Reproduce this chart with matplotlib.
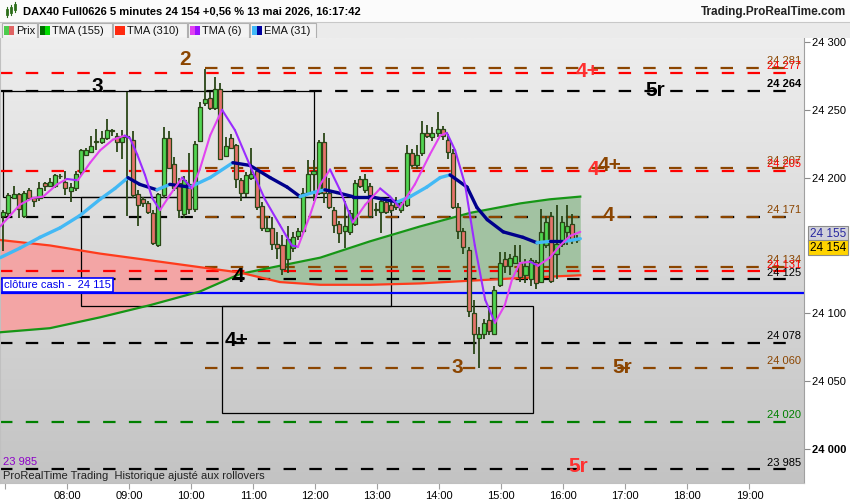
import numpy as np
import matplotlib
matplotlib.use('Agg')
import matplotlib.pyplot as plt
from matplotlib.collections import LineCollection
from matplotlib.patches import Rectangle
from matplotlib.colors import LinearSegmentedColormap

plt.rcParams['font.family'] = ['Liberation Sans', 'DejaVu Sans']

# ---------------- data ----------------
OPEN = [24172,24174,24185,24188,24172,24191,24185,24185,24196,24194,
        24194,24201,24197,24190,24192,24204,24217,24219,24227,24226,
        24229,24235,24231,24226,24230,24228,24188,24184,24181,24174,
        24150,24187,24229,24210,24196,24173,24195,24177,24227,24255,
        24259,24251,24265,24216,24229,24224,24198,24189,24200,24205,
        24179,24161,24163,24151,24150,24140,24148,24157,24161,24189,
        24203,24189,24226,24189,24176,24166,24161,24160,24166,24199,
        24191,24194,24177,24175,24182,24180,24183,24176,24180,24218,
        24209,24218,24233,24230,24233,24236,24228,24218,24178,24161,
        24147,24100,24082,24085,24095,24085,24121,24140,24135,24137,
        24137,24128,24125,24138,24123,24150,24172,24144,24151,24160,
        24166,24154]
HIGH = [24176,24189,24194,24189,24190,24192,24186,24197,24197,24200,
        24203,24203,24205,24196,24205,24221,24222,24231,24236,24234,
        24243,24236,24233,24235,24263,24234,24191,24186,24183,24176,
        24189,24237,24234,24215,24200,24201,24218,24227,24256,24280,
        24263,24274,24270,24230,24232,24225,24200,24204,24222,24207,
        24182,24171,24171,24160,24158,24164,24160,24163,24192,24213,
        24213,24228,24233,24200,24178,24168,24183,24176,24198,24201,
        24203,24196,24181,24185,24184,24184,24186,24184,24224,24221,
        24224,24242,24239,24237,24248,24238,24232,24221,24181,24163,
        24149,24110,24090,24096,24103,24120,24145,24145,24144,24150,
        24150,24140,24141,24139,24177,24172,24175,24180,24172,24180,
        24173,24158]
LOW = [24146,24172,24185,24170,24170,24184,24178,24183,24190,24194,
       24192,24199,24187,24182,24190,24202,24216,24218,24220,24225,
       24228,24231,24219,24214,24172,24185,24164,24178,24173,24150,
       24149,24185,24206,24190,24170,24170,24173,24175,24226,24253,
       24250,24250,24213,24215,24221,24192,24183,24186,24198,24176,
       24161,24160,24147,24140,24128,24130,24145,24154,24159,24188,
       24183,24187,24181,24177,24159,24152,24148,24158,24164,24192,
       24189,24170,24172,24159,24173,24174,24176,24174,24178,24208,
       24206,24216,24229,24227,24230,24228,24214,24177,24155,24144,
       24097,24070,24060,24081,24084,24084,24119,24130,24128,24136,
       24123,24122,24120,24118,24122,24148,24122,24125,24149,24150,
       24151,24152]
CLOSE = [24175,24187,24188,24177,24189,24185,24183,24192,24194,24197,
         24202,24201,24192,24193,24203,24220,24220,24223,24226,24229,
         24235,24234,24226,24230,24231,24187,24180,24181,24175,24152,
         24188,24229,24207,24192,24176,24198,24177,24225,24252,24258,
         24251,24265,24214,24223,24222,24199,24189,24202,24203,24178,
         24163,24163,24151,24148,24133,24155,24156,24161,24189,24203,
         24205,24226,24189,24178,24165,24159,24164,24174,24196,24194,
         24199,24172,24176,24183,24175,24176,24178,24182,24218,24209,
         24217,24233,24231,24233,24236,24231,24219,24178,24161,24149,
         24102,24085,24085,24093,24087,24117,24137,24135,24141,24142,
         24127,24135,24139,24122,24160,24167,24124,24151,24167,24164,
         24154,24154]

# EMA(31) (candle index, price)
EMA_X = [-0.6, 3.2, 7.1, 11.0, 14.8, 18.7, 21.6, 24.1, 26.4, 29.7, 32.2, 36.1, 40.0, 44.4,
         47.7, 51.6, 54.9, 57.4, 59.9, 62.2, 64.5, 67.6, 70.9, 76.2, 78.7, 81.9, 84.5, 86.4,
         89.7, 91.6, 93.6, 96.7, 100.5, 103.2, 105.7, 108.6, 111.6]
EMA_Y = [24141, 24148, 24156, 24163, 24172, 24184, 24192, 24200, 24195, 24191, 24195, 24193,
         24200, 24211, 24209, 24200, 24193, 24186, 24189, 24191, 24189, 24186, 24186, 24182,
         24186, 24193, 24200, 24202, 24193, 24178, 24169, 24160, 24156, 24152, 24153, 24153, 24155]

# TMA(6)
TMA6_X = [-0.6,1.3,3.2,5.7,7.7,10.4,12.3,14.4,16.8,18.7,21.2,23.5,24.5,25.9,27.4,28.8,30.3,
          32.2,34.6,36.5,38.0,40.0,42.3,44.8,47.7,50.6,53.5,55.8,57.0,59.3,61.3,63.2,65.1,
          67.6,70.0,72.9,74.8,76.7,79.6,82.5,84.5,85.8,87.4,89.3,91.2,93.2,95.1,97.0,98.4,
          99.9,101.9,103.4,105.7,107.7,109.6,111.6]
TMA6_Y = [24164,24172,24180,24185,24186,24195,24199,24198,24211,24220,24228,24231,24229,
          24217,24202,24185,24176,24187,24200,24192,24206,24231,24250,24235,24209,24184,
          24165,24150,24149,24172,24195,24206,24191,24167,24180,24192,24186,24178,24195,
          24217,24231,24233,24220,24195,24150,24110,24093,24106,24125,24137,24138,24135,
          24141,24150,24157,24160]

# TMA(155) and TMA(310)
TMA_LONG_X = [-0.6, 9, 18.7, 28.4, 38, 45.8, 53.5, 61.3, 70.9, 80.6, 90.3, 100, 105.7, 111.6]
TMA155 = [24086, 24089, 24097, 24106, 24116, 24129, 24135, 24141, 24153, 24164, 24174, 24181, 24184, 24186]
TMA310 = [24154, 24150, 24144, 24139, 24134, 24130, 24123, 24121, 24121, 24122, 24124, 24126, 24127, 24128]

# horizontal levels
LEVELS = [24281, 24277, 24264, 24207, 24205, 24171, 24171, 24134, 24131, 24125, 24078, 24060, 24020, 23985]
LEVEL_COLORS = ['#8b4500', '#ff0000', '#000000', '#8b4500', '#ff0000', '#000000', '#8b4500',
                '#8b4500', '#ff0000', '#000000', '#000000', '#8b4500', '#008000', '#000000']
LEVEL_START = [39, -0.6, -0.6, 39, -0.6, -0.6, 39, 39, -0.6, -0.6, -0.6, 39, -0.6, -0.6]
LEVEL_LABELS = ['24 281', '24 277', '24 264', '24 207', '24 205', '', '24 171', '24 134',
                '24 131', '24 125', '24 078', '24 060', '24 020', '23 985']
CASH_CLOSE = 24115

# boxes (left index, right index, top price, bottom price)
BOX_X0 = [0, 15, 42.3]
BOX_X1 = [60, 75, 102.4]
BOX_TOP = [24264, 24185.5, 24105]
BOX_BOT = [24185.5, 24105, 24026.5]

# wave labels
WAVE_TEXT = ['2', '3', '4+', '5r', '4', '4+', '4', '4', '4+', '3', '5r', '5r']
WAVE_X = [35.2, 18.1, 113.1, 126.1, 114.1, 117.2, 117.0, 45.4, 45.2, 87.8, 119.7, 111.2]
WAVE_Y = [24287, 24267, 24278, 24264, 24206, 24209, 24172, 24127, 24080, 24060, 24060, 23987]
WAVE_COL = ['#8b4500', '#000000', '#ff3030', '#000000', '#ff3030', '#8b4500', '#8b4500',
            '#000000', '#000000', '#8b4500', '#8b4500', '#ff3030']

HOURS = ['07:00', '08:00', '09:00', '10:00', '11:00', '12:00', '13:00', '14:00', '15:00',
         '16:00', '17:00', '18:00', '19:00']
YTICKS = [24000, 24050, 24100, 24200, 24250, 24300]
LAST_PRICE = 24154
LAST_EMA = 24155

# ---------------- figure ----------------
W, H = 850, 500
fig = plt.figure(figsize=(W / 100, H / 100), dpi=100)
fig.patch.set_facecolor('white')

ax = fig.add_axes([0, (H - 483) / H, 804 / W, (483 - 38) / H])
XL = (-0.64, 154.87)
YL = (23974.9, 24302.9)

grad = LinearSegmentedColormap.from_list('bg', ['#c3c3c3', '#eeeeee'])
ax.imshow(np.linspace(0, 1, 256).reshape(-1, 1), extent=[0, 1, 0, 1], transform=ax.transAxes,
          cmap=grad, aspect='auto', origin='lower', zorder=0)

# fill between long TMAs
gx = np.array(TMA_LONG_X)
g = np.array(TMA155, dtype=float)
r = np.array(TMA310, dtype=float)
ax.fill_between(gx, g, r, where=g >= r, interpolate=True, color='#a2c2a2', lw=0, zorder=1)
ax.fill_between(gx, g, r, where=g < r, interpolate=True, color='#f3a5a5', lw=0, zorder=1)

# boxes
for x0, x1, t, b in zip(BOX_X0, BOX_X1, BOX_TOP, BOX_BOT):
    ax.add_patch(Rectangle((x0, b), x1 - x0, t - b, fill=False, ec='black', lw=0.9, zorder=2))

# level lines
XEND = 152.6
for lv, c, s in zip(LEVELS, LEVEL_COLORS, LEVEL_START):
    ax.plot([s, XEND], [lv, lv], color=c, lw=1.6, ls=(0, (5.6, 6.0)), zorder=2.2,
            solid_capstyle='butt', dash_capstyle='butt')
for lv, c, lab in zip(LEVELS, LEVEL_COLORS, LEVEL_LABELS):
    if lab:
        ax.annotate(lab, xy=(154.3, lv), xytext=(0, 1.2), textcoords='offset points',
                    ha='right', va='bottom', fontsize=8, color=c,
                    fontweight='bold' if lab == '24 264' else 'normal', zorder=6)

# cash close line
ax.axhline(CASH_CLOSE, color='#0000ff', lw=1.6, zorder=2.3)
ax.annotate('clôture cash -  24 115', xy=(0.002, CASH_CLOSE), xycoords=('axes fraction', 'data'),
            xytext=(1.5, 2.2), textcoords='offset points', ha='left', va='bottom', fontsize=8,
            color='#0000ee', zorder=7,
            bbox=dict(boxstyle='square,pad=0.18', fc='white', ec='#0000ff', lw=1.2))

# long TMAs lines
ax.plot(gx, g, color='#169616', lw=1.6, zorder=3)
ax.plot(gx, r, color='#ff3b1c', lw=1.6, zorder=3)

# candles
WICK = '#2a4617'
for i, (o, h, l, c) in enumerate(zip(OPEN, HIGH, LOW, CLOSE)):
    ax.vlines(i, l, h, color=WICK, lw=1.3, zorder=3.5)
    up = c >= o
    bh = abs(c - o)
    ax.bar(i, bh if bh > 0 else 0.35, bottom=min(o, c) if bh > 0 else c - 0.17, width=0.78,
           color='#52d652' if up else '#e6736b', edgecolor=WICK, lw=0.9, zorder=3.6)


def colored_line(xs, ys, up_c, down_c, lw, z):
    pts = np.column_stack([xs, ys])
    segs = np.stack([pts[:-1], pts[1:]], axis=1)
    cols = [up_c if y2 > y1 else down_c for y1, y2 in zip(ys[:-1], ys[1:])]
    lc = LineCollection(segs, colors=cols, linewidths=lw, capstyle='round',
                        joinstyle='round', zorder=z)
    ax.add_collection(lc)


colored_line(EMA_X, EMA_Y, '#43b9f5', '#00008c', 2.4, 4.5)
colored_line(TMA6_X, TMA6_Y, '#e244f0', '#9a2cff', 1.5, 4.6)

# wave labels
for t, x, y, c in zip(WAVE_TEXT, WAVE_X, WAVE_Y, WAVE_COL):
    ax.text(x, y, t, color=c, fontsize=15, fontweight='bold', ha='center', va='center', zorder=6)

# footer texts
ax.text(0.004, 0.047, '23 985', transform=ax.transAxes, color='#8d00c8', fontsize=8,
        ha='left', va='center', zorder=6)
ax.text(0.004, 0.016, 'ProRealTime Trading  Historique ajusté aux rollovers',
        transform=ax.transAxes, color='#222222', fontsize=8, ha='left', va='center', zorder=6)

# axes formatting
ax.set_xlim(*XL)
ax.set_ylim(*YL)
ax.yaxis.tick_right()
ax.set_yticks(YTICKS)
ax.set_yticklabels([f"{v // 1000} {v % 1000:03d}" for v in YTICKS])
for lab, v in zip(ax.get_yticklabels(), YTICKS):
    if v == 24000:
        lab.set_fontweight('bold')
        lab.set_fontsize(9)
ax.tick_params(axis='y', direction='out', length=4, color='#8a8a8a', labelsize=8, pad=2)
hour_pos = [12 * k + 0.32 for k in range(len(HOURS))]
ax.set_xticks(hour_pos)
ax.set_xticklabels([''] + HOURS[1:])
ax.tick_params(axis='x', direction='out', length=4, color='#a0a0a0', labelsize=8, pad=1.5)
for sp in ['top']:
    ax.spines[sp].set_visible(False)
ax.spines['right'].set_color('#a0a0a0')
ax.spines['bottom'].set_color('#c0c0c0')
ax.spines['left'].set_color('#c0c0c0')

# last price boxes
ax.annotate(f"{LAST_EMA // 1000} {LAST_EMA % 1000:03d}", xy=(1.0, LAST_EMA),
            xycoords=('axes fraction', 'data'), xytext=(4.5, 3.2), textcoords='offset points',
            ha='left', va='center', fontsize=8.5, color='#2828a0', annotation_clip=False,
            bbox=dict(boxstyle='square,pad=0.15', fc='#d2d2da', ec='#8c8c8c', lw=0.8))
ax.annotate(f"{LAST_PRICE // 1000} {LAST_PRICE % 1000:03d}", xy=(1.0, LAST_PRICE),
            xycoords=('axes fraction', 'data'), xytext=(4.5, -5.5), textcoords='offset points',
            ha='left', va='center', fontsize=8.5, color='black', annotation_clip=False,
            bbox=dict(boxstyle='square,pad=0.15', fc='#ffd400', ec='#8c8c8c', lw=0.8))

# ---------------- header ----------------
hd = fig.add_axes([0, 1 - 38 / H, 1, 38 / H])
hd.set_xlim(0, W)
hd.set_ylim(38, 0)
hd.axis('off')
hd.add_patch(Rectangle((0, 0), W, 22, fc='#fbfbfb', ec='none'))
hd.add_patch(Rectangle((0, 22), W, 16, fc='#ebebeb', ec='none'))
hd.plot([0, W], [22, 22], color='#c8c8c8', lw=0.8)
# candle icon
for cx, y0, y1, w0, w1 in [(6, 9, 15, 7, 17), (10, 7, 13, 5, 15), (14, 4, 10, 2, 12)]:
    hd.plot([cx + 0.8, cx + 0.8], [w0, w1], color='#2e6b1b', lw=0.8)
    hd.add_patch(Rectangle((cx, y0), 1.8, y1 - y0, fc='#55d655', ec='#2e6b1b', lw=0.6))
hd.text(23, 12, 'DAX40 Full0626 5 minutes 24 154 +0,56 % 13 mai 2026, 16:17:42',
        fontsize=8, fontweight='bold', ha='left', va='center', color='black')
hd.text(846, 12, 'Trading.ProRealTime.com', fontsize=8.5, fontweight='bold', ha='right',
        va='center', color='#222222')
cells = [(2, 37, 'Prix', ('#4dcc4d', '#e06464')),
         (38, 112, 'TMA (155)', ('#007000', '#00dd00')),
         (113, 187, 'TMA (310)', ('#ff2a10', '#ff2a10')),
         (188, 249, 'TMA (6)', ('#e040f0', '#9a10ff')),
         (250, 316, 'EMA (31)', ('#40b8f8', '#0000a0'))]
for x0, x1, lab, (c1, c2) in cells:
    hd.add_patch(Rectangle((x0, 22.5), x1 - x0, 15, fc='#f3f3f3', ec='#b0b0b0', lw=0.8))
    hd.add_patch(Rectangle((x0 + 2, 25.5), 5, 9.5, fc=c1, ec='none'))
    hd.add_patch(Rectangle((x0 + 7, 25.5), 5, 9.5, fc=c2, ec='none'))
    hd.text(x0 + 14.5, 30.5, lab, fontsize=8, ha='left', va='center', color='#111111')

fig.savefig('out.png', dpi=100)
